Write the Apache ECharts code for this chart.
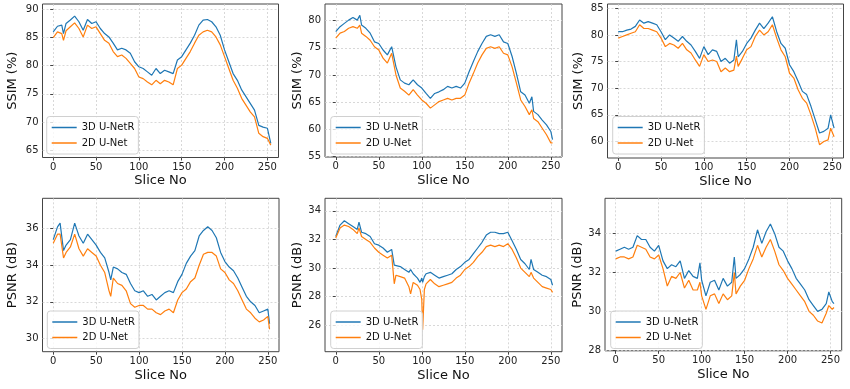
<!DOCTYPE html>
<html><head><meta charset="utf-8">
<script src="https://cdn.jsdelivr.net/npm/echarts@6/dist/echarts.min.js"></script>
<style>html,body{margin:0;padding:0;background:#fff}#c{width:850px;height:389px}</style>
</head><body><div id="c"></div>
<script>
// ---------- data ----------
const seriesNames = ['3D U-NetR', '2D U-Net'];
const sliceTicks = [0, 50, 100, 150, 200, 250];

// Panel 1: SSIM
const xs1 = [0,5,10,12,15,20,25,30,35,40,45,50,55,60,65,70,75,80,85,90,95,100,105,110,115,120,125,130,135,140,145,150,155,160,165,170,175,180,185,190,195,200,205,210,215,220,225,230,235,240,245,250,254];
const b1 = [86.0,87.0,87.2,85.7,87.5,88.1,88.8,87.8,86.3,88.2,87.5,87.8,86.6,85.7,85.1,84.0,82.8,83.1,82.8,82.2,80.7,79.8,79.5,78.9,78.3,79.5,78.6,79.2,78.9,78.6,81.0,81.6,82.8,84.0,85.4,87.2,88.1,88.2,87.8,86.9,85.4,82.8,80.7,78.6,77.4,75.7,74.5,73.3,72.1,69.4,69.1,68.9,66.2];
const o1 = [85.0,86.0,85.7,84.5,86.2,86.9,87.6,86.6,85.1,87.2,86.6,86.9,85.7,84.5,84.0,82.5,81.6,81.9,81.3,80.4,79.5,78.0,77.7,77.1,76.6,77.4,76.8,77.4,77.1,76.6,79.5,80.1,81.3,82.5,84.0,85.4,86.0,86.3,86.0,85.1,83.7,81.6,79.5,77.4,76.0,74.2,73.0,71.8,70.9,68.0,67.4,67.1,65.9];
const yTicks1 = [65,70,75,80,85,90];

// Panel 2: SSIM
const xs2 = [0,5,10,15,20,25,28,30,35,40,45,50,55,60,65,70,75,80,85,90,95,100,105,110,115,120,125,130,135,140,145,150,155,160,165,170,175,180,185,190,195,200,205,210,215,220,225,228,230,235,240,245,250,252];
const b2 = [78.0,78.9,79.5,80.1,80.6,80.1,81.0,79.2,78.6,77.7,76.1,75.8,74.6,73.7,75.2,71.5,69.1,68.5,68.2,69.1,68.2,67.6,66.6,65.7,66.6,66.9,67.3,67.9,67.6,67.9,67.6,68.5,70.6,72.5,74.3,75.8,77.1,77.4,77.1,77.4,76.1,75.8,73.4,70.3,66.9,66.3,64.8,66.0,63.3,62.7,61.7,60.8,59.6,58.1];
const o2 = [76.8,77.7,78.0,78.6,78.9,78.6,79.2,77.7,77.1,76.4,75.2,74.6,73.1,72.2,74.0,70.0,67.6,67.0,66.3,67.3,66.3,65.4,64.8,63.9,64.5,65.1,65.4,65.7,65.4,65.7,65.7,66.3,68.5,70.3,72.2,73.7,74.9,75.2,74.9,75.2,74.0,73.7,71.5,68.5,65.4,64.2,62.7,63.6,62.0,61.4,60.2,59.0,57.5,57.5];
const yTicks2 = [55,60,65,70,75,80];

// Panel 3: SSIM
const xs3 = [0,5,10,15,20,25,30,35,40,45,50,55,60,65,70,75,80,85,90,95,100,105,110,115,120,125,130,135,138,140,145,150,155,160,165,170,175,180,185,190,195,200,205,210,215,220,225,230,235,240,245,248,252];
const b3 = [80.6,80.6,80.9,81.1,81.6,82.8,82.2,82.5,82.2,81.9,80.6,79.1,80.0,79.4,78.8,79.7,78.8,78.1,76.9,75.6,77.8,76.3,77.2,76.9,75.0,75.6,74.7,75.3,79.1,75.9,76.9,78.4,79.4,80.9,82.2,81.2,82.2,83.4,80.6,78.4,77.5,74.4,73.1,71.3,69.4,68.8,66.6,64.1,61.6,61.9,62.5,65.0,62.5];
const o3 = [79.4,79.7,80.0,80.3,80.6,81.9,81.2,81.2,80.9,80.6,79.4,77.8,78.4,78.1,77.5,78.4,77.2,76.6,75.3,74.1,76.3,75.0,75.3,75.0,73.1,73.8,73.1,73.4,76.0,74.1,75.6,77.2,77.8,79.7,80.9,80.0,80.6,81.9,79.4,77.2,75.9,72.8,71.9,69.7,68.1,67.2,65.0,62.5,59.4,60.0,60.3,62.5,60.9];
const yTicks3 = [60,65,70,75,80,85];

// Panel 4: PSNR
const xs4 = [0,5,8,12,15,20,25,30,35,40,45,50,55,60,65,67,70,75,80,85,90,95,100,105,110,115,120,125,130,135,140,145,150,155,160,165,170,175,180,185,190,195,200,205,210,215,220,225,230,235,240,245,250,252];
const b4 = [35.4,36.1,36.3,34.8,35.1,35.4,36.3,35.6,35.2,35.7,35.4,35.1,34.7,34.4,33.6,33.2,33.9,33.8,33.6,33.5,33.0,32.6,32.5,32.6,32.3,32.4,32.1,32.3,32.5,32.6,32.5,33.1,33.5,34.1,34.5,34.8,35.6,35.9,36.1,35.9,35.5,34.7,34.2,33.9,33.7,33.3,32.8,32.3,32.0,31.8,31.4,31.5,31.6,30.8];
const o4 = [35.2,35.7,35.7,34.4,34.7,35.0,35.7,34.9,34.5,34.9,34.7,34.5,34.0,33.6,32.6,32.3,33.3,33.0,32.9,32.6,31.9,31.7,31.8,31.8,31.6,31.6,31.4,31.3,31.5,31.6,31.4,32.1,32.5,32.7,33.1,33.3,34.0,34.6,34.7,34.7,34.5,33.8,33.6,33.2,33.0,32.6,32.1,31.6,31.4,31.1,30.9,31.0,31.2,30.5];
const yTicks4 = [30,32,34,36];

// Panel 5: PSNR
const xs5 = [0,5,10,15,20,25,27,30,35,40,45,50,55,60,65,68,70,75,80,85,87,90,95,98,100,101,103,105,110,115,120,125,130,135,140,145,150,155,160,165,170,175,180,185,190,195,200,205,210,215,220,225,227,230,235,240,245,250,252];
const b5 = [32.2,33.0,33.3,33.1,32.9,32.7,33.2,32.5,32.4,32.2,31.7,31.6,31.4,31.1,31.3,30.2,30.2,30.1,29.9,29.7,29.9,29.6,29.3,29.0,29.3,29.0,29.4,29.6,29.7,29.5,29.3,29.4,29.5,29.6,29.9,30.1,30.4,30.6,31.0,31.4,31.8,32.3,32.5,32.5,32.4,32.4,32.5,31.9,31.3,30.6,30.3,29.9,30.6,29.9,29.7,29.5,29.4,29.2,28.8];
const o5 = [32.1,32.8,33.0,32.9,32.7,32.4,32.8,32.2,32.0,31.8,31.4,31.1,30.9,30.7,30.9,28.9,29.5,29.4,29.3,28.7,28.2,29.0,28.8,28.5,27.8,25.7,28.5,28.9,29.2,28.9,28.7,28.8,28.9,29.0,29.3,29.5,29.9,30.1,30.4,30.8,31.1,31.5,31.6,31.5,31.6,31.5,31.7,31.3,30.7,30.0,29.7,29.4,29.7,29.3,29.0,28.7,28.6,28.5,28.3];
const yTicks5 = [26,28,30,32,34];

// Panel 6: PSNR
const xs6 = [0,5,10,15,20,25,30,35,40,45,50,55,60,65,70,75,80,85,90,95,98,100,105,110,115,120,125,130,135,138,140,145,150,155,160,165,170,175,180,185,190,195,200,205,210,215,220,225,230,235,240,245,248,252,254];
const b6 = [33.1,33.2,33.3,33.2,33.3,33.9,33.7,33.7,33.3,33.1,33.4,32.6,32.2,32.4,32.3,32.6,31.7,32.1,31.8,31.7,32.5,31.6,30.8,31.5,31.6,31.1,31.7,31.3,31.5,32.8,31.7,31.9,32.2,32.7,33.3,34.2,33.5,34.1,34.5,34.0,33.3,33.1,32.6,32.2,31.7,31.4,31.1,30.6,30.3,30.0,30.1,30.4,31.0,30.5,30.4];
const o6 = [32.7,32.8,32.8,32.7,32.8,33.4,33.3,33.2,32.8,32.7,32.9,32.2,31.3,31.8,31.7,32.0,31.2,31.6,31.1,31.1,31.5,30.8,30.1,30.8,30.9,30.4,30.9,30.6,30.8,32.0,30.9,31.3,31.6,32.2,32.7,33.4,32.8,33.3,33.7,33.1,32.4,32.1,31.7,31.4,31.1,30.8,30.5,30.0,29.8,29.5,29.4,29.9,30.3,30.1,30.2];
const yTicks6 = [28,30,32,34];

// ---------- layout ----------
const panels = [
  {xs:xs1, b:b1, o:o1, ticks:yTicks1, name:'SSIM (%)',  ymin:63.7,  ymax:90.95, grid:{left:42.5, top:4,     width:236,   height:153.5}, gap:23, leg:{left:46.7,  top:116.5}},
  {xs:xs2, b:b2, o:o2, ticks:yTicks2, name:'SSIM (%)',  ymin:54.9,  ymax:83.07, grid:{left:325,  top:4,     width:237,   height:153},   gap:21, leg:{left:330.7, top:116.5}},
  {xs:xs3, b:b3, o:o3, ticks:yTicks3, name:'SSIM (%)',  ymin:56.9,  ymax:85.8,  grid:{left:607.5,top:4,     width:236,   height:154},   gap:22, leg:{left:612.7, top:116.5}},
  {xs:xs4, b:b4, o:o4, ticks:yTicks4, name:'PSNR (dB)', ymin:29.27, ymax:37.66, grid:{left:42.5, top:198.3, width:236.5, height:153.4}, gap:23, leg:{left:47.3,  top:311}},
  {xs:xs5, b:b5, o:o5, ticks:yTicks5, name:'PSNR (dB)', ymin:24.16, ymax:34.87, grid:{left:325,  top:198.3, width:237,   height:153.4}, gap:21, leg:{left:330.7, top:311}},
  {xs:xs6, b:b6, o:o6, ticks:yTicks6, name:'PSNR (dB)', ymin:27.97, ymax:35.82, grid:{left:605,  top:198.3, width:236.7, height:152.5}, gap:21, leg:{left:610.7, top:311}}
];

const FONT = 'DejaVu Sans';
const BLUE = '#1f77b4', ORANGE = '#ff7f0e';
const gridLine = {show:true, lineStyle:{color:'#cfcfcf', width:0.8, type:[2,2]}};

const option = {
  animation:false,
  backgroundColor:'#fff',
  grid:[], xAxis:[], yAxis:[], series:[], legend:[]
};

panels.forEach((p, i) => {
  option.grid.push(Object.assign({show:true, borderColor:'#444', borderWidth:1, backgroundColor:'transparent'}, p.grid));
  option.xAxis.push({
    type:'value', gridIndex:i, min:-12.5, max:263,
    name:'Slice No', nameLocation:'middle', nameGap:17,
    nameTextStyle:{fontFamily:FONT, fontSize:13, color:'#111'},
    axisLine:{show:false},
    axisTick:{show:true, inside:false, length:3, customValues:sliceTicks, lineStyle:{color:'#444'}},
    axisLabel:{customValues:sliceTicks, margin:4.5, fontFamily:FONT, fontSize:10, color:'#222'},
    splitLine:gridLine
  });
  option.yAxis.push({
    type:'value', gridIndex:i, min:p.ymin, max:p.ymax,
    name:p.name, nameLocation:'middle', nameGap:p.gap, nameRotate:90,
    nameTextStyle:{fontFamily:FONT, fontSize:13, color:'#111'},
    axisLine:{show:false},
    axisTick:{show:true, inside:false, length:3, customValues:p.ticks, lineStyle:{color:'#444'}},
    axisLabel:{customValues:p.ticks, margin:4, fontFamily:FONT, fontSize:10, color:'#222'},
    splitLine:gridLine
  });
  option.series.push({
    name:seriesNames[0], type:'line', xAxisIndex:i, yAxisIndex:i,
    data:p.xs.map((x,k)=>[x,p.b[k]]), symbol:'none', showSymbol:false,
    lineStyle:{color:BLUE, width:1.2}, itemStyle:{color:BLUE}, z:2
  });
  option.series.push({
    name:seriesNames[1], type:'line', xAxisIndex:i, yAxisIndex:i,
    data:p.xs.map((x,k)=>[x,p.o[k]]), symbol:'none', showSymbol:false,
    lineStyle:{color:ORANGE, width:1.2}, itemStyle:{color:ORANGE}, z:3
  });
  option.legend.push({
    data:seriesNames, orient:'vertical', left:p.leg.left, top:p.leg.top,
    icon:'rect', itemWidth:25, itemHeight:1.5, itemGap:3.5,
    padding:[5,4,5,5],
    backgroundColor:'rgba(255,255,255,0.8)', borderColor:'#d0d0d0', borderWidth:1, borderRadius:3,
    textStyle:{fontFamily:FONT, fontSize:10, lineHeight:12, color:'#111'},
    selectedMode:false, z:10
  });
});

const chart = echarts.init(document.getElementById('c'), null, {renderer:'canvas'});
chart.setOption(option);
</script>
</body></html>
